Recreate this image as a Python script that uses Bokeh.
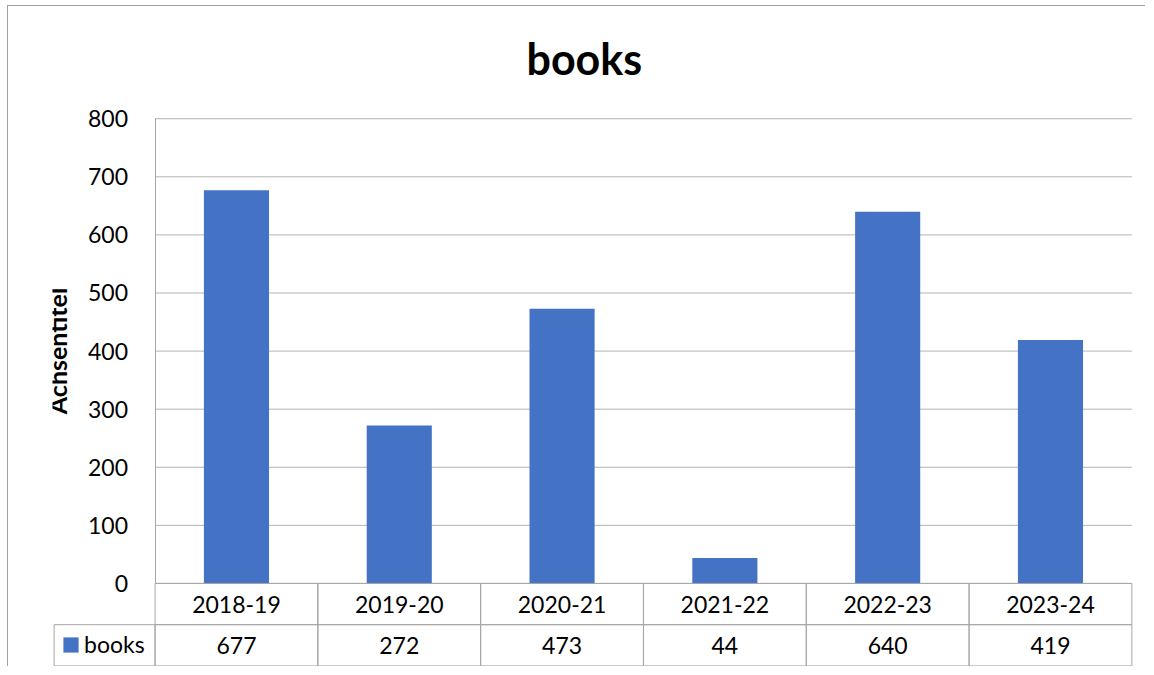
from bokeh.plotting import figure
from bokeh.models import FixedTicker, Range1d
from bokeh.core.properties import value
from bokeh.embed import file_html
from bokeh.resources import INLINE

# ---- data ----
categories = ["2018-19", "2019-20", "2020-21", "2021-22", "2022-23", "2023-24"]
books = [677, 272, 473, 44, 640, 419]
y_ticks = [0, 100, 200, 300, 400, 500, 600, 700, 800]
series_name = "books"
title_text = "books"
y_label = "Achsentitel"

# ---- style ----
FONT = "Lato"
BAR = "#4472C4"
GRID = "#b3b3b3"
TBL = "#a6a6a6"
ROW = 71        # table row height (y units)
LEG_W = 0.62    # legend column width (x units)

n = len(categories)
centers = [i + 0.5 for i in range(n)]

p = figure(width=1138, height=661, output_backend="svg", toolbar_location=None,
           x_range=Range1d(-0.63, n + 0.01), y_range=Range1d(-2 * ROW - 1, 840),
           x_axis_location=None, min_border_left=44, min_border_right=13,
           min_border_top=89, min_border_bottom=1, title=title_text)
p.styles = {"margin-left": "7px", "margin-top": "5px",
            "border-left": "1px solid #a0a0a0", "border-top": "1px solid #a0a0a0"}
p.outline_line_color = None
p.xgrid.visible = False
p.ygrid.visible = False

p.title.text_font = FONT
p.title.text_font_size = "43px"
p.title.text_font_style = "bold"
p.title.text_color = "black"
p.title.align = "left"
p.title.offset = 474
p.title.standoff = 23

ax = p.yaxis[0]
ax.ticker = FixedTicker(ticks=y_ticks)
ax.fixed_location = 0
ax.bounds = (0, 800)
ax.axis_line_color = TBL
ax.major_tick_line_color = None
ax.minor_tick_line_color = None
ax.major_tick_out = 0
ax.major_tick_in = 0
ax.major_label_standoff = 27
ax.major_label_text_font = FONT
ax.major_label_text_font_size = "23px"
ax.major_label_text_color = "black"
ax.axis_label = y_label
ax.axis_label_text_font = FONT
ax.axis_label_text_font_size = "25px"
ax.axis_label_text_font_style = "bold"
ax.axis_label_text_color = "black"
ax.axis_label_standoff = 13

# gridlines (only across the category columns)
p.segment(x0=0, x1=n, y0=y_ticks, y1=y_ticks, line_color=GRID, line_width=1)

# bars
p.vbar(x=centers, top=books, width=0.4, fill_color=BAR, line_color=None,
       legend_label=series_name)

# data table
lefts = list(range(n))
rights = [i + 1 for i in range(n)]
p.quad(left=lefts, right=rights, top=0, bottom=-ROW, fill_color=None, line_color=TBL)
p.quad(left=lefts, right=rights, top=-ROW, bottom=-2 * ROW, fill_color=None, line_color=TBL)
p.quad(left=[-LEG_W], right=[0], top=[-ROW], bottom=[-2 * ROW], fill_color=None, line_color=TBL)

p.text(x=centers, y=-ROW / 2, text=categories, text_font=value(FONT),
       text_font_size="23px", text_align="center", text_baseline="middle", text_color="black")
p.text(x=centers, y=-1.5 * ROW, text=[str(v) for v in books], text_font=value(FONT),
       text_font_size="23px", text_align="center", text_baseline="middle", text_color="black")

lg = p.legend[0]
lg.location = (9, 8)
lg.glyph_width = 19
lg.glyph_height = 19
lg.label_standoff = 4
lg.label_text_font = FONT
lg.label_text_font_size = "23px"
lg.label_text_color = "black"
lg.padding = 0
lg.margin = 0
lg.spacing = 0
lg.border_line_color = None
lg.background_fill_alpha = 0

open("out.html", "w").write(file_html(p, INLINE))
